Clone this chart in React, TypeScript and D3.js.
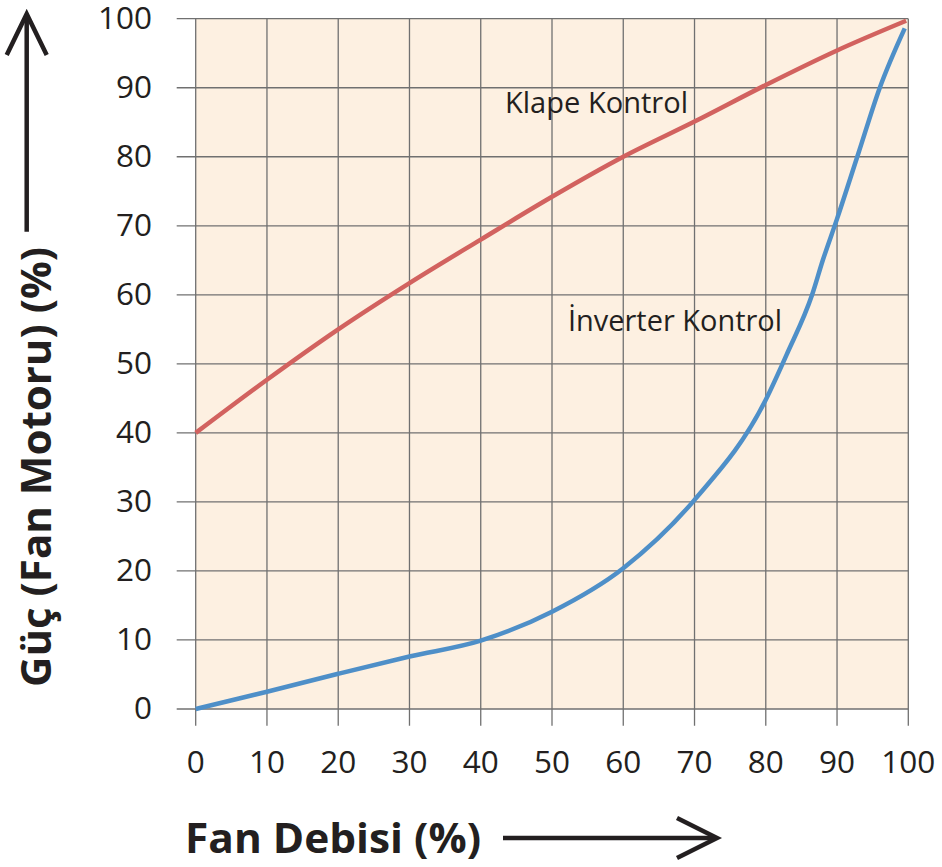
import React from "react";
import * as d3 from "d3";

const xTicks = [0, 10, 20, 30, 40, 50, 60, 70, 80, 90, 100];
const yTicks = [0, 10, 20, 30, 40, 50, 60, 70, 80, 90, 100];

const klapeX = [0, 10, 20, 30, 40, 50, 60, 70, 80, 90, 99.7];
const klapeY = [40, 47.7, 55, 61.7, 68, 74.2, 80, 85.1, 90.4, 95.4, 99.7];

const inverterX = [0, 10, 20, 30, 40, 50, 60, 70, 80, 83, 86.5, 88, 90, 93, 96, 99.5];
const inverterY = [0, 2.5, 5.1, 7.6, 9.9, 14.1, 20.4, 30.3, 44.8, 51.5, 60, 65, 71, 80.5, 90, 98.6];

const xTitle = "Fan Debisi (%)";
const yTitle = "Güç (Fan Motoru) (%)";
const klapeLabel = "Klape Kontrol";
const inverterLabel = "İnverter Kontrol";

const W = 942;
const H = 867;
const TEXT = "#231f20";
const GRID = "#707070";

export default function App() {
  const x = d3.scaleLinear().domain([0, 100]).range([195.7, 908.3]);
  const y = d3.scaleLinear().domain([0, 100]).range([709, 18.7]);

  const line = d3
    .line<[number, number]>()
    .x((d) => x(d[0]))
    .y((d) => y(d[1]))
    .curve(d3.curveMonotoneX);

  const klape: [number, number][] = klapeX.map((v, i) => [v, klapeY[i]]);
  const inverter: [number, number][] = inverterX.map((v, i) => [v, inverterY[i]]);

  const numFont = "'Open Sans', sans-serif";

  return (
    <svg
      width={W}
      height={H}
      style={{ position: "absolute", left: 0, top: 0, background: "#fff" }}
    >
      <rect
        x={x(0)}
        y={y(100)}
        width={x(100) - x(0)}
        height={y(0) - y(100)}
        fill="#fdf0e1"
      />
      {/* horizontal grid lines */}
      {yTicks.map((t) => (
        <line
          key={"gy" + t}
          x1={176.7}
          x2={x(100)}
          y1={y(t)}
          y2={y(t)}
          stroke={GRID}
          strokeWidth={1.3}
        />
      ))}
      {/* vertical grid lines */}
      {xTicks.map((t) => (
        <line
          key={"gx" + t}
          x1={x(t)}
          x2={x(t)}
          y1={y(100)}
          y2={725.7}
          stroke={GRID}
          strokeWidth={1.3}
        />
      ))}
      {/* y tick labels */}
      {yTicks.map((t) => (
        <text
          key={"ly" + t}
          x={152}
          y={y(t) + 10}
          textAnchor="end"
          fontFamily={numFont}
          fontSize={31.5}
          fill={TEXT}
        >
          {t}
        </text>
      ))}
      {/* x tick labels */}
      {xTicks.map((t) => (
        <text
          key={"lx" + t}
          x={x(t)}
          y={773}
          textAnchor="middle"
          fontFamily={numFont}
          fontSize={31.5}
          fill={TEXT}
        >
          {t}
        </text>
      ))}
      {/* curves */}
      <path d={line(klape) || ""} fill="none" stroke="#d2625f" strokeWidth={4.5} />
      <path d={line(inverter) || ""} fill="none" stroke="#4e8fc8" strokeWidth={4.5} />
      {/* curve labels */}
      <text
        x={505}
        y={112.5}
        fontFamily={numFont}
        fontSize={29.5}
        fill={TEXT}
        textLength={183}
        lengthAdjust="spacingAndGlyphs"
      >
        {klapeLabel}
      </text>
      <text
        x={568}
        y={330.5}
        fontFamily={numFont}
        fontSize={29.5}
        fill={TEXT}
        textLength={214}
        lengthAdjust="spacingAndGlyphs"
      >
        {inverterLabel}
      </text>
      {/* y title */}
      <text
        transform="translate(51,687) rotate(-90)"
        fontFamily={numFont}
        fontWeight={700}
        fontSize={42}
        fill={TEXT}
        textLength={440}
        lengthAdjust="spacingAndGlyphs"
      >
        {yTitle}
      </text>
      {/* y arrow */}
      <line x1={26.7} x2={26.7} y1={231.7} y2={15} stroke={TEXT} strokeWidth={4.5} />
      <polyline
        points="6.7,55 26.7,14 46.7,55"
        fill="none"
        stroke={TEXT}
        strokeWidth={4.5}
      />
      {/* x title */}
      <text
        x={185}
        y={853}
        fontFamily={numFont}
        fontWeight={700}
        fontSize={42}
        fill={TEXT}
        textLength={296}
        lengthAdjust="spacingAndGlyphs"
      >
        {xTitle}
      </text>
      {/* x arrow */}
      <line x1={503} x2={716} y1={838} y2={838} stroke={TEXT} strokeWidth={4.5} />
      <polyline
        points="677,818 717,838 677,858"
        fill="none"
        stroke={TEXT}
        strokeWidth={4.5}
      />
    </svg>
  );
}
